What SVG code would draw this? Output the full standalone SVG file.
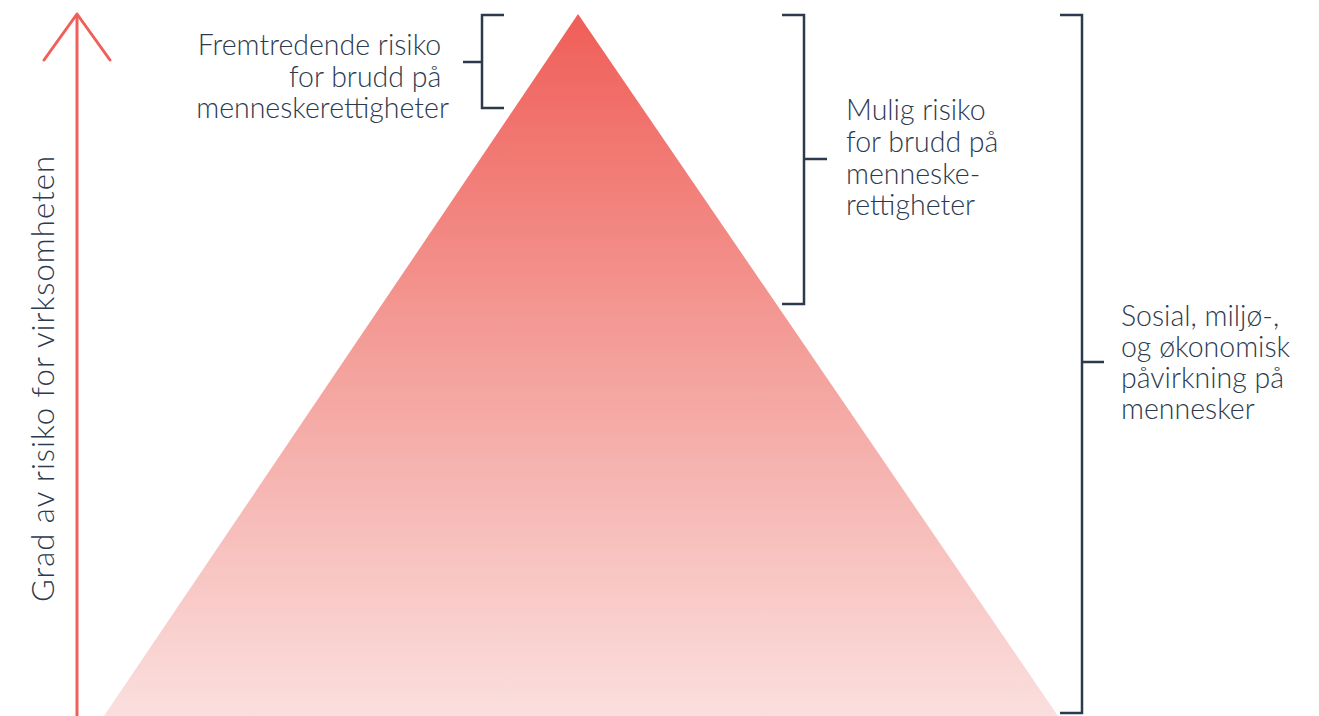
<svg xmlns="http://www.w3.org/2000/svg" width="1319" height="716" viewBox="0 0 1319 716">
  <defs>
    <linearGradient id="pyramidFill" x1="0" y1="0" x2="0" y2="1">
      <stop offset="0" stop-color="#F05E58"/>
      <stop offset="0.5" stop-color="#F4A19C"/>
      <stop offset="1" stop-color="#FADFDE"/>
    </linearGradient>
    <style>
      .label { font-family: Lato, "Open Sans", "Liberation Sans", sans-serif; font-weight: 300; font-size: 28.5px; fill: #2D3A4E; }
      .bracket { fill: none; stroke: #2D3A4E; stroke-width: 2.5; stroke-linecap: butt; stroke-linejoin: miter; }
      .axis { fill: none; stroke: #F0605A; stroke-width: 3; stroke-linecap: round; stroke-linejoin: round; }
    </style>
  </defs>
  <rect width="1319" height="716" fill="#FFFFFF"/>

  <!-- pyramid -->
  <g id="pyramid">
    <polygon points="578,14 104,716 1058,716" fill="url(#pyramidFill)"/>
  </g>

  <!-- vertical axis with open arrowhead -->
  <g id="axis">
    <line class="axis" x1="77" y1="716" x2="77" y2="15"/>
    <polyline class="axis" points="44,60 77,14 110,60"/>
    <text class="label" transform="translate(54,602) rotate(-90)" style="font-size:31px" textLength="446" lengthAdjust="spacing">Grad av risiko for virksomheten</text>
  </g>

  <!-- brackets -->
  <g id="connectors">
    <path class="bracket" d="M504,15 H482 V108 H504 M482,62 H463"/>
    <path class="bracket" d="M782,15 H804 V304 H782 M804,159 H827"/>
    <path class="bracket" d="M1060,15 H1082 V713 H1060 M1082,362 H1104"/>
  </g>

  <g id="top-label">
    <text class="label" text-anchor="end">
      <tspan x="449" y="55">Fremtredende risiko</tspan>
      <tspan x="449" y="87">for brudd på</tspan>
      <tspan x="449" y="118">menneskerettigheter</tspan>
    </text>
  </g>

  <g id="middle-label">
    <text class="label">
      <tspan x="846" y="120">Mulig risiko</tspan>
      <tspan x="846" y="152">for brudd på</tspan>
      <tspan x="846" y="184">menneske-</tspan>
      <tspan x="846" y="215">rettigheter</tspan>
    </text>
  </g>

  <g id="base-label">
    <text class="label">
      <tspan x="1121" y="326">Sosial, miljø-,</tspan>
      <tspan x="1121" y="357">og økonomisk</tspan>
      <tspan x="1121" y="388">påvirkning på</tspan>
      <tspan x="1121" y="419">mennesker</tspan>
    </text>
  </g>
</svg>
